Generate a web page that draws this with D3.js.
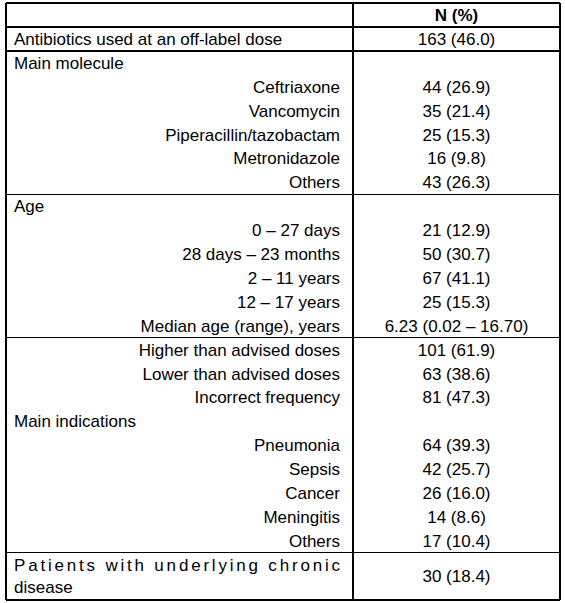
<!DOCTYPE html>
<html><head><meta charset="utf-8">
<script src="https://cdn.jsdelivr.net/npm/d3@7"></script>
<style>body{margin:0;background:#fff}svg{display:block}</style>
</head><body>
<script>
const header = "N (%)";
const labels = ["Antibiotics used at an off-label dose","Main molecule","Ceftriaxone","Vancomycin","Piperacillin/tazobactam","Metronidazole","Others","Age","0 – 27 days","28 days – 23 months","2 – 11 years","12 – 17 years","Median age (range), years","Higher than advised doses","Lower than advised doses","Incorrect frequency","Main indications","Pneumonia","Sepsis","Cancer","Meningitis","Others"];
const align = ["left","left","right","right","right","right","right","left","right","right","right","right","right","right","right","right","left","right","right","right","right","right"];
const values = ["163 (46.0)","","44 (26.9)","35 (21.4)","25 (15.3)","16 (9.8)","43 (26.3)","","21 (12.9)","50 (30.7)","67 (41.1)","25 (15.3)","6.23 (0.02 – 16.70)","101 (61.9)","63 (38.6)","81 (47.3)","","64 (39.3)","42 (25.7)","26 (16.0)","14 (8.6)","17 (10.4)"];
const lastLabel = ["Patients with underlying chronic","disease"];
const lastValue = "30 (18.4)";
const separatorsAfter = [0,6,12];

(function(){
const W=565,H=603;
const svg=d3.select("body").append("svg").attr("width",W).attr("height",H);
const x0=6,x1=353,x2=560;
const y=d3.scaleLinear().domain([0,1]).range([27,50.9]);
const yTop=3, yBottom=600;
const font="'Liberation Sans', Arial, sans-serif";
const g=svg.append("g").attr("font-family",font).attr("font-size",17).attr("fill","#000");

g.append("text").attr("x",(x1+x2)/2).attr("y",21).attr("text-anchor","middle").attr("font-weight","bold").text(header);

const rows=labels.map((l,i)=>({l,a:align[i],v:values[i],i}));
g.selectAll("text.lab").data(rows).join("text").attr("class","lab")
 .attr("x",d=>d.a==="left"?14:340).attr("text-anchor",d=>d.a==="left"?"start":"end")
 .attr("y",d=>y(d.i+0.5)+6).text(d=>d.l);
g.selectAll("text.val").data(rows.filter(d=>d.v)).join("text").attr("class","val")
 .attr("x",(x1+x2)/2).attr("text-anchor","middle").attr("y",d=>y(d.i+0.5)+6).text(d=>d.v);

const lastTop=y(labels.length);
g.append("text").attr("x",14).attr("y",lastTop+18).attr("textLength",326).attr("lengthAdjust","spacing").text(lastLabel[0]);
g.append("text").attr("x",14).attr("y",lastTop+40).text(lastLabel[1]);
g.append("text").attr("x",(x1+x2)/2).attr("text-anchor","middle").attr("y",(lastTop+yBottom)/2+6).text(lastValue);

const lines=svg.append("g").attr("stroke","#000").attr("stroke-width",1.2).attr("shape-rendering","crispEdges");
const hs=[yTop,y(0),...separatorsAfter.map(i=>y(i+1)),lastTop,yBottom];
lines.selectAll("line.h").data(hs).join("line").attr("x1",x0).attr("x2",x2).attr("y1",d=>d).attr("y2",d=>d);
[x0,x1,x2].forEach(x=>lines.append("line").attr("x1",x).attr("x2",x).attr("y1",yTop).attr("y2",yBottom));
})();
</script>
</body></html>
